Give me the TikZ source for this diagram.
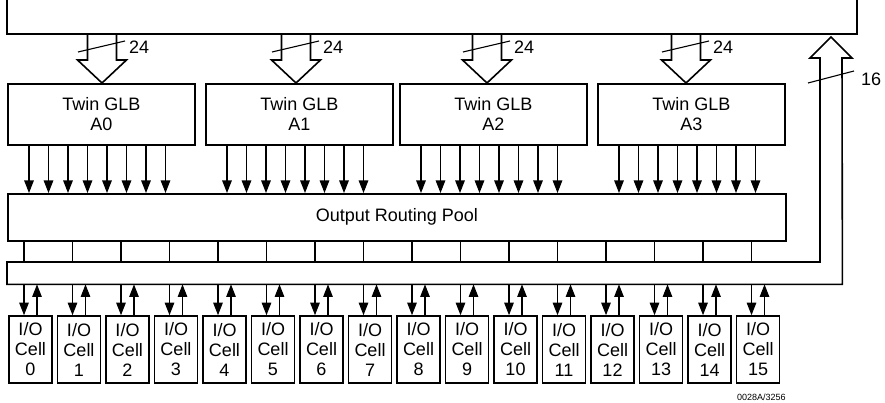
\documentclass[tikz,border=0pt]{standalone}
\usepackage{fontspec}
\setmainfont{Liberation Sans}
\usetikzlibrary{arrows.meta}
\newcommand\lblfont{\fontsize{18}{20}\selectfont}
\begin{document}
\begin{tikzpicture}[x=1pt,y=-1pt,
  boxline/.style={draw, line width=1.6pt, line join=miter},
  blk/.style={draw, line width=1.6pt, inner sep=0pt, align=center, font=\lblfont},
  thinline/.style={line width=1.1pt},
  arr/.style={line width=1.1pt, -{Triangle[width=9.5pt,length=12.5pt]}},
  lbl/.style={anchor=west, inner sep=0pt, font=\lblfont}]
\useasboundingbox (0,0) rectangle (885,403);

% top box (open at the top)
\draw[boxline] (7,-3) -- (7,34) -- (857,34) -- (857,-3);

% Output routing pool
\node[blk, minimum width=778pt, minimum height=47pt, anchor=north west] (orp) at (7,193) {Output Routing Pool};

% Twin GLBs
\foreach \k/\l/\t in {0/7/102,1/205/296,2/399/487,3/597/686} {
  \node[blk, minimum width=187pt, minimum height=61pt, anchor=north west] (g\k) at (\l,83) {Twin GLB\\A\k};
  % hollow input bus arrow
  \draw[boxline] ({\t-14.5},34) -- ({\t-14.5},60) -- ({\t-24.5},60) -- (g\k.north -| \t,0)
     -- ({\t+24.5},60) -- ({\t+14.5},60) -- ({\t+14.5},34);
  \draw[thinline] ({\t-24},52) -- ({\t+23},41);
  \node[lbl] (n\k) at ({\t+27},47) {24};
  \foreach \j in {0,...,7} {
    \coordinate (s\k\j) at ([xshift={22pt+19.5pt*\j}]g\k.south west);
    \draw[arr] (s\k\j) -- (s\k\j |- orp.north);
  }
}

% bar + feedback bus arrow
\node[inner sep=0pt, minimum width=835pt, minimum height=22pt, anchor=north west] (bar) at (7,262) {};
\draw[boxline] (bar.north west) -- (820,262) -- (820,58) -- (810,58) -- (831,37) -- (852,58)
   -- (842,58) -- (bar.south east) -- (bar.south west) -- cycle;
\draw[thinline] (808,83) -- (854,71);
\node[lbl] (n16) at (861,79) {16};

% I/O cells
\foreach \i in {0,...,15} {
  \node[blk, minimum width=43pt, minimum height=67pt] (c\i) at ({30.5+48.5*\i},349.5) {I/O\\Cell\\\i};
  \coordinate (d\i) at ([xshift=-6.5pt]c\i.north);
  \coordinate (u\i) at ([xshift=6.5pt]c\i.north);
  \draw[thinline] (d\i |- orp.south) -- (d\i |- bar.north);
  \draw[arr] (d\i |- bar.south) -- (d\i);
  \draw[arr] (u\i) -- (u\i |- bar.south);
}

\node[anchor=west, inner sep=0pt, font=\fontsize{9}{10}\selectfont] (ref) at (737,397) {0028A/3256};
\end{tikzpicture}
\end{document}
